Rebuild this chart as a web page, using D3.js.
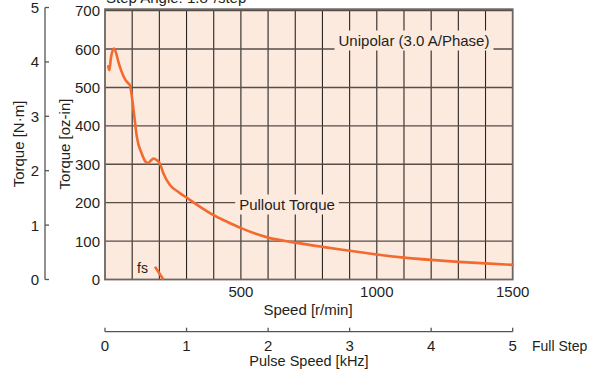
<!DOCTYPE html>
<html>
<head>
<meta charset="utf-8">
<script src="https://cdn.jsdelivr.net/npm/d3@7"></script>
<style>
  html, body { margin: 0; padding: 0; background: #ffffff; }
  svg { display: block; }
  text { font-family: "Liberation Sans", Arial, Helvetica, sans-serif; fill: #231f20; }
</style>
</head>
<body>
<svg id="chart" width="596" height="376"></svg>
<script>
// ---- data ----
const speedRpm = [12, 16, 22, 33, 40, 49, 60, 74, 84, 92, 100, 108, 117, 135, 150, 158, 168, 178, 190, 202, 215, 239, 270, 300, 350, 398, 450, 503, 600, 700, 800, 900, 1000, 1100, 1200, 1300, 1400, 1500];
const torqueOzIn = [555, 545, 578, 601, 592, 567, 543, 521, 512, 505, 470, 424, 372, 328, 306, 303, 309, 315, 311, 302, 276, 246, 228, 213, 189, 168, 150, 133, 109, 96, 85, 75, 65, 57, 51, 46, 42, 38];
const fsSpeed = [184, 215];
const fsTorque = [33, 0];
const ozTicks = [0, 100, 200, 300, 400, 500, 600, 700];
const nmTicks = [0, 1, 2, 3, 4, 5];
const speedTicks = [500, 1000, 1500];
const khzTicks = [0, 1, 2, 3, 4, 5];
const OZ_PER_NM = 141.6;

// ---- layout ----
const svg = d3.select("#chart");
const x0 = 105, x1 = 512.7, yBottom = 279.5, yTop700 = 10.6;

const x = d3.scaleLinear().domain([0, 1500]).range([x0, x1]);
const y = d3.scaleLinear().domain([0, 700]).range([yBottom, yTop700]);
const yNm = d3.scaleLinear().domain([0, 700 / OZ_PER_NM]).range([yBottom, yTop700]);
const xk = d3.scaleLinear().domain([0, 5]).range([x0, x1]);

const frameTop = 9.2;

// background
svg.append("rect")
  .attr("x", x0).attr("y", frameTop)
  .attr("width", x1 - x0).attr("height", yBottom - frameTop)
  .attr("fill", "#fdeadf");

// vertical grid (every 100 r/min)
const vGrid = d3.range(100, 1500, 100);
svg.append("g").selectAll("line").data(vGrid).join("line")
  .attr("x1", d => x(d)).attr("x2", d => x(d))
  .attr("y1", frameTop).attr("y2", yBottom)
  .attr("stroke", "#2a2522").attr("stroke-width", 1.1);

// horizontal grid
svg.append("g").selectAll("line").data(ozTicks.slice(1)).join("line")
  .attr("x1", x0).attr("x2", x1)
  .attr("y1", d => y(d)).attr("y2", d => y(d))
  .attr("stroke", "#564d48").attr("stroke-width", 1.4);

// frame
svg.append("rect")
  .attr("x", x0).attr("y", frameTop)
  .attr("width", x1 - x0).attr("height", yBottom - frameTop)
  .attr("fill", "none").attr("stroke", "#6e6560").attr("stroke-width", 1.8);

// curves
const line = d3.line().x(d => x(d[0])).y(d => y(d[1])).curve(d3.curveMonotoneX);
svg.append("path")
  .datum(speedRpm.map((s, i) => [s, torqueOzIn[i]]))
  .attr("d", line)
  .attr("fill", "none").attr("stroke", "#f26a2e").attr("stroke-width", 2.6)
  .attr("stroke-linejoin", "round").attr("stroke-linecap", "round");

svg.append("path")
  .datum(fsSpeed.map((s, i) => [s, fsTorque[i]]))
  .attr("d", d3.line().x(d => x(d[0])).y(d => y(d[1])))
  .attr("fill", "none").attr("stroke", "#f26a2e").attr("stroke-width", 2.6);

// labels with background boxes
function boxedLabel(txt, cx, cy) {
  const g = svg.append("g");
  const t = g.append("text").attr("x", cx).attr("y", cy)
    .attr("text-anchor", "middle").attr("dominant-baseline", "central")
    .attr("font-size", 15).text(txt);
  const bb = t.node().getBBox();
  g.insert("rect", "text")
    .attr("x", bb.x - 4).attr("y", bb.y - 1)
    .attr("width", bb.width + 8).attr("height", bb.height + 3)
    .attr("fill", "#fdeadf");
}
boxedLabel("Unipolar (3.0 A/Phase)", 414, 40);
boxedLabel("Pullout Torque", 287, 204);

svg.append("text").attr("x", 137).attr("y", 273)
  .attr("font-size", 14).text("fs");

// top text (clipped at the top edge, as in the reference)
svg.append("text").attr("x", 106).attr("y", 3)
  .attr("font-size", 15).text("Step Angle: 1.8°/step");

// oz-in axis labels
svg.append("g").selectAll("text").data(ozTicks).join("text")
  .attr("x", 100).attr("y", d => y(d))
  .attr("text-anchor", "end").attr("dominant-baseline", "central")
  .attr("font-size", 15).text(d => d);

// N·m axis
const gNm = svg.append("g");
gNm.append("line").attr("x1", 45).attr("x2", 45)
  .attr("y1", yNm(5)).attr("y2", yNm(0))
  .attr("stroke", "#555").attr("stroke-width", 1.3);
gNm.selectAll("line.t").data(nmTicks).join("line").attr("class", "t")
  .attr("x1", 45).attr("x2", 49)
  .attr("y1", d => yNm(d)).attr("y2", d => yNm(d))
  .attr("stroke", "#555").attr("stroke-width", 1.3);
gNm.selectAll("text").data(nmTicks).join("text")
  .attr("x", 39).attr("y", d => yNm(d))
  .attr("text-anchor", "end").attr("dominant-baseline", "central")
  .attr("font-size", 15).text(d => d);

// axis titles
svg.append("text").attr("transform", "translate(24,144) rotate(-90)")
  .attr("text-anchor", "middle").attr("font-size", 15).text("Torque [N·m]");
svg.append("text").attr("transform", "translate(70,144) rotate(-90)")
  .attr("text-anchor", "middle").attr("font-size", 15).text("Torque [oz-in]");

// speed tick labels
svg.append("g").selectAll("text").data(speedTicks).join("text")
  .attr("x", d => x(d)).attr("y", 297)
  .attr("text-anchor", "middle").attr("font-size", 15).text(d => d);
svg.append("text").attr("x", 308).attr("y", 315)
  .attr("text-anchor", "middle").attr("font-size", 15).text("Speed [r/min]");

// kHz axis
const yK = 331.7;
const gK = svg.append("g");
gK.append("line").attr("x1", x0).attr("x2", x1).attr("y1", yK).attr("y2", yK)
  .attr("stroke", "#555").attr("stroke-width", 1.3);
gK.selectAll("line.t").data(khzTicks).join("line").attr("class", "t")
  .attr("x1", d => xk(d)).attr("x2", d => xk(d))
  .attr("y1", yK - 4).attr("y2", yK)
  .attr("stroke", "#555").attr("stroke-width", 1.3);
gK.selectAll("text").data(khzTicks).join("text")
  .attr("x", d => xk(d)).attr("y", 351)
  .attr("text-anchor", "middle").attr("font-size", 15).text(d => d);
svg.append("text").attr("x", 532).attr("y", 351)
  .attr("font-size", 14).text("Full Step");
svg.append("text").attr("x", 309).attr("y", 366)
  .attr("text-anchor", "middle").attr("font-size", 14.5).text("Pulse Speed [kHz]");
</script>
</body>
</html>
